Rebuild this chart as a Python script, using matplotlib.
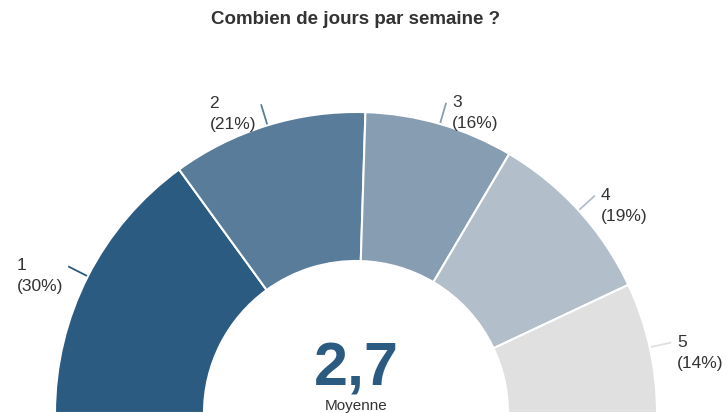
import numpy as np
import matplotlib
matplotlib.use("Agg")
import matplotlib.pyplot as plt

# ── data ────────────────────────────────────────────────────────────────
CATEGORIES = ["1", "2", "3", "4", "5"]
SHARES = [30, 21, 16, 19, 14]          # percent
MEAN_LABEL = "2,7"
MEAN_CAPTION = "Moyenne"
TITLE = "Combien de jours par semaine ?"

# ── style ───────────────────────────────────────────────────────────────
COLORS = ["#2C5B82", "#587C99", "#879DB1", "#B2BFCA", "#E0E0E0"]
TEXT_DARK = "#333333"
FONT = ["Liberation Sans", "DejaVu Sans"]

W, H = 727, 414
CX, CY = 356, 0            # centre of the half donut (pixel coords, y up)
R_OUT, R_IN = 301, 152

plt.rcParams["font.family"] = FONT

fig = plt.figure(figsize=(W / 100, H / 100), dpi=100, facecolor="white")
ax = fig.add_axes([0, 0, 1, 1])

# half donut: add an invisible slice equal to the total for the lower half
vals = SHARES + [sum(SHARES)]
wedges, _ = ax.pie(vals, startangle=180, counterclock=False, radius=R_OUT,
                   center=(CX, CY), colors=COLORS + ["white"],
                   wedgeprops=dict(width=R_OUT - R_IN, edgecolor="white",
                                   linewidth=1.5))
wedges[-1].set_visible(False)

# labels with short leader lines
total = sum(SHARES)
start = 180.0
for cat, pct, col in zip(CATEGORIES, SHARES, COLORS):
    span = 180.0 * pct / total
    mid = np.radians(start - span / 2)
    start -= span
    x0, y0 = CX + (R_OUT + 1) * np.cos(mid), CY + (R_OUT + 1) * np.sin(mid)
    x1, y1 = CX + (R_OUT + 22) * np.cos(mid), CY + (R_OUT + 22) * np.sin(mid)
    ax.plot([x0, x1], [y0, y1], color=col, linewidth=1.3,
            solid_capstyle="butt")
    right = np.cos(mid) > 0
    ax.text(x1 + (6 if right else -5), y1 - 9, f"{cat}\n({pct}%)",
            ha="left" if right else "right", va="center",
            multialignment="left", fontsize=12.5, color=TEXT_DARK,
            linespacing=1.5)

# centre value
ax.text(CX, CY + 28, MEAN_LABEL, ha="center", va="baseline",
        fontsize=44, fontweight="bold", color=COLORS[0])
ax.text(CX, CY + 1, MEAN_CAPTION, ha="center", va="bottom",
        fontsize=11, color=TEXT_DARK)

ax.set_xlim(0, W)
ax.set_ylim(0, H)
ax.set_aspect("equal")
ax.axis("off")

fig.text(CX / W, 1 - 20 / H, TITLE, ha="center", va="center",
         fontsize=13.5, fontweight="bold", color=TEXT_DARK)

fig.savefig("out.png", dpi=100, facecolor="white")
plt.close(fig)
